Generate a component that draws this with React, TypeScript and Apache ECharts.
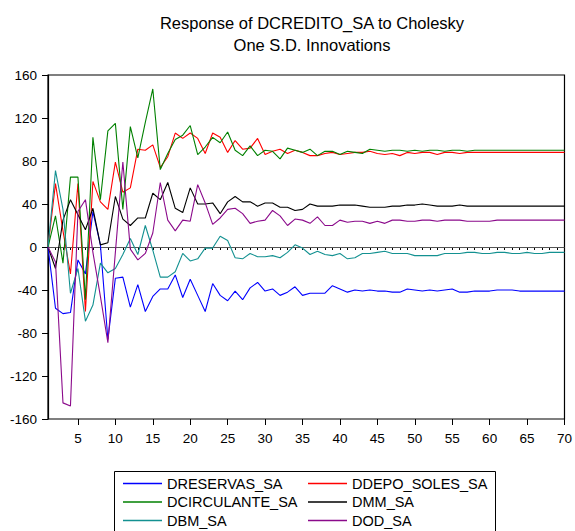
import React, { useEffect, useRef } from "react";
import * as echarts from "echarts";

const periods: string[] = Array.from({ length: 70 }, (_, i) => String(i + 1));

const dreservas = [0, -57, -62, -61, -12, -25, 33, 2, -86, -29, -28, -56, -35, -60, -46, -39, -39, -26, -47, -30,
  -45, -60, -34, -45, -50, -41, -49, -38, -33, -41, -39, -45, -42, -37, -45, -43, -43, -43, -36, -39,
  -42, -40, -41, -40, -41, -41, -42, -42, -39, -40, -41, -40, -41, -40, -39, -42, -42, -41, -41, -41,
  -40, -40, -40, -41, -41, -41, -41, -41, -41, -41];
const ddepo = [0, 59, 15, -25, 59, -60, 61, 42, 35, 79, 51, 55, 91, 90, 95, 74, 84, 106, 101, 106,
  101, 87, 106, 102, 88, 99, 91, 92, 101, 86, 89, 91, 87, 90, 88, 85, 85, 87, 88, 86,
  87, 88, 88, 89, 87, 86, 87, 85, 88, 87, 88, 88, 86, 88, 88, 87, 88, 88, 88, 88,
  88, 88, 88, 88, 88, 88, 88, 88, 88, 88];
const dcirculante = [0, 29, -15, 65, 65, -49, 102, 44, 108, 115, 35, 112, 83, 116, 147, 72, 87, 100, 104, 113,
  86, 93, 102, 97, 107, 90, 85, 94, 85, 90, 89, 82, 92, 90, 88, 91, 85, 89, 89, 86,
  89, 88, 87, 91, 90, 89, 90, 90, 89, 90, 89, 90, 90, 89, 90, 90, 89, 90, 90, 90,
  90, 90, 90, 90, 90, 90, 90, 90, 90, 90];
const dmm = [0, -20, 25, 44, 30, 16, 36, 2, 4, 47, 26, 20, 27, 27, 50, 44, 60, 36, 32, 55,
  40, 40, 41, 31, 42, 47, 42, 42, 38, 41, 41, 37, 37, 34, 35, 40, 38, 38, 38, 39,
  39, 39, 38, 37, 37, 37, 38, 38, 39, 39, 40, 39, 38, 38, 38, 39, 38, 38, 38, 38,
  38, 38, 38, 38, 38, 38, 38, 38, 38, 38];
const dbm = [0, 71, 35, -43, -20, -69, -54, -15, -24, -20, -7, 8, -7, 20, -3, -28, -28, -23, -6, -13,
  -11, -1, -1, 10, 6, -10, -11, -6, -9, -9, -8, -10, -5, 2, -1, -7, -4, -7, -8, -6,
  -11, -10, -6, -6, -5, -4, -6, -6, -6, -8, -8, -8, -8, -6, -6, -6, -5, -5, -6, -6,
  -5, -5, -6, -6, -5, -6, -6, -5, -5, -5];
const dod = [0, -14, -145, -148, 33, 44, -5, -46, -89, -5, 79, -2, -12, -6, 13, 60, 25, 15, 25, 24,
  58, 41, 21, 27, 35, 36, 31, 22, 24, 25, 34, 29, 20, 26, 25, 22, 28, 20, 20, 25,
  23, 24, 24, 22, 24, 22, 25, 25, 24, 24, 25, 25, 24, 25, 25, 25, 24, 24, 24, 24,
  25, 25, 25, 25, 25, 25, 25, 25, 25, 25];

const seriesNames = ["DRESERVAS_SA", "DDEPO_SOLES_SA", "DCIRCULANTE_SA", "DMM_SA", "DBM_SA", "DOD_SA"];
const seriesData = [dreservas, ddepo, dcirculante, dmm, dbm, dod];
const seriesColors = ["#0000ff", "#ff0000", "#008000", "#000000", "#139191", "#8b0a8b"];

const FONT = "'Liberation Sans', Arial, sans-serif";

export default function App() {
  const ref = useRef<HTMLDivElement>(null);
  useEffect(() => {
    if (!ref.current) return;
    const chart = echarts.init(ref.current, undefined, { renderer: "svg" });
    const series: any[] = seriesNames.map((name, i) => ({
      name,
      type: "line",
      data: seriesData[i],
      symbol: "none",
      lineStyle: { color: seriesColors[i], width: 1.1 },
      itemStyle: { color: seriesColors[i] },
      z: 3,
    }));
    series[0].markLine = {
      silent: true,
      symbol: "none",
      label: { show: false },
      lineStyle: { color: "#555555", width: 1.2, type: "solid" },
      data: [{ yAxis: 0 }],
      z: 2,
    };
    const legendCommon = {
      type: "plain",
      orient: "vertical",
      icon: "rect",
      itemWidth: 39,
      itemHeight: 1.5,
      itemGap: 3.5,
      height: 200,
      padding: 0,
      textStyle: { fontSize: 14.5, fontFamily: FONT, color: "#000", lineHeight: 14 },
      selectedMode: false,
    };
    chart.setOption({
      animation: false,
      backgroundColor: "#ffffff",
      title: {
        text: "Response of DCREDITO_SA to Cholesky\nOne S.D. Innovations",
        left: 307,
        top: 7,
        textAlign: "center",
        textStyle: { fontSize: 16.5, fontWeight: "normal", fontFamily: FONT, color: "#000", lineHeight: 22 },
      },
      legend: [
        { ...legendCommon, left: 123, top: 476, data: ["DRESERVAS_SA", "DCIRCULANTE_SA", "DBM_SA"] },
        { ...legendCommon, left: 308, top: 476, data: ["DDEPO_SOLES_SA", "DMM_SA", "DOD_SA"] },
      ],
      grid: { left: 48, right: 9, top: 75, bottom: 112, show: true, borderColor: "#000", borderWidth: 1.2, backgroundColor: "transparent" },
      xAxis: [
        {
          type: "category",
          data: periods,
          boundaryGap: false,
          axisLine: { show: true, lineStyle: { color: "#000", width: 1.2 } },
          axisTick: { show: true, interval: 0, length: 3, lineStyle: { color: "#000" } },
          axisLabel: {
            interval: (index: number) => (index + 1) % 5 === 0,
            fontSize: 13.5,
            fontFamily: FONT,
            color: "#000",
            margin: 12,
          },
          splitLine: { show: false },
        },
        {
          type: "category",
          data: periods,
          boundaryGap: false,
          position: "bottom",
          axisLine: { show: false },
          axisTick: { show: true, interval: (index: number) => (index + 1) % 5 === 0, length: 6, lineStyle: { color: "#000" } },
          axisLabel: { show: false },
          splitLine: { show: false },
        },
      ],
      yAxis: {
        type: "value",
        min: -160,
        max: 160,
        interval: 40,
        axisLine: { show: true, lineStyle: { color: "#000", width: 1.2 } },
        axisTick: { show: true, length: 6, lineStyle: { color: "#000" } },
        axisLabel: { fontSize: 13.5, fontFamily: FONT, color: "#000", margin: 11 },
        splitLine: { show: false },
      },
      graphic: [
        {
          type: "rect",
          shape: { x: 114.5, y: 471.5, width: 381, height: 70 },
          style: { fill: "none", stroke: "#000", lineWidth: 1 },
          silent: true,
        },
      ],
      series,
    });
    return () => chart.dispose();
  }, []);
  return <div ref={ref} style={{ position: "fixed", left: 0, top: 0, width: 575, height: 531 }} />;
}
